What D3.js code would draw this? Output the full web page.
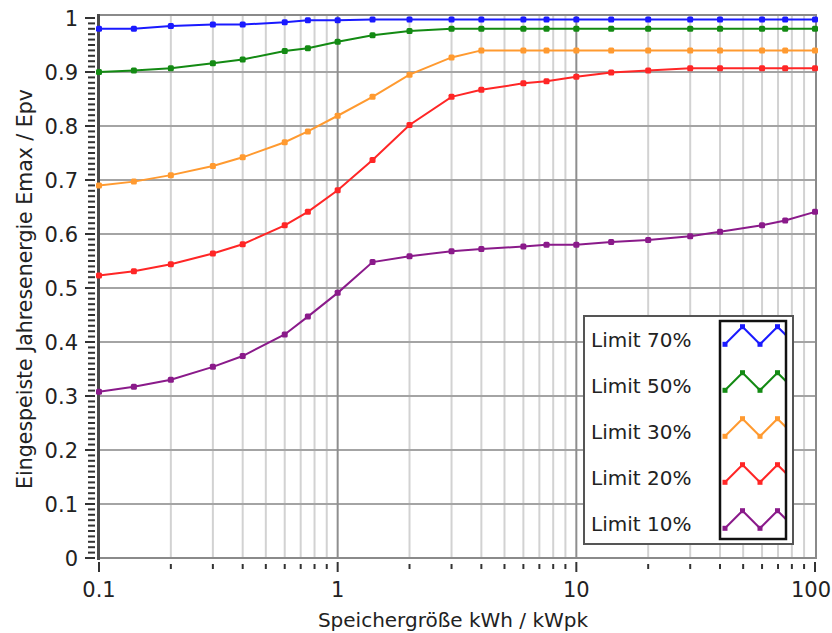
<!DOCTYPE html>
<html>
<head>
<meta charset="utf-8">
<script src="https://cdn.jsdelivr.net/npm/d3@7/dist/d3.min.js"></script>
<style>
    body { margin: 0; background: #fff; }
    text { font-family: "DejaVu Sans", Verdana, sans-serif; fill: #222; }
</style>
</head>
<body>
<div id="chart"></div>
<script>
// storage size kWh / kWpk (x values shared by all series)
var storage = [0.1, 0.14, 0.2, 0.3, 0.4, 0.6, 0.75, 1, 1.4, 2, 3, 4, 6, 7.5, 10, 14, 20, 30, 40, 60, 75, 100];

// Emax / Epv
var limit70 = [0.980, 0.980, 0.985, 0.988, 0.988, 0.992, 0.996, 0.996, 0.997, 0.997, 0.997,
               0.997, 0.997, 0.997, 0.997, 0.997, 0.997, 0.997, 0.997, 0.997, 0.997, 0.997];
var limit50 = [0.900, 0.903, 0.907, 0.916, 0.923, 0.939, 0.944, 0.956, 0.968, 0.976, 0.980,
               0.980, 0.980, 0.980, 0.980, 0.980, 0.980, 0.980, 0.980, 0.980, 0.980, 0.980];
var limit30 = [0.690, 0.697, 0.709, 0.726, 0.742, 0.770, 0.790, 0.819, 0.854, 0.895, 0.927,
               0.940, 0.940, 0.940, 0.940, 0.940, 0.940, 0.940, 0.940, 0.940, 0.940, 0.940];
var limit20 = [0.523, 0.531, 0.544, 0.564, 0.581, 0.616, 0.641, 0.681, 0.737, 0.802, 0.854,
               0.867, 0.879, 0.883, 0.891, 0.899, 0.903, 0.907, 0.907, 0.907, 0.907, 0.907];
var limit10 = [0.308, 0.317, 0.330, 0.354, 0.374, 0.414, 0.447, 0.491, 0.548, 0.559, 0.568,
               0.572, 0.577, 0.580, 0.580, 0.585, 0.589, 0.596, 0.604, 0.616, 0.625, 0.641];

var seriesNames = ["Limit 70%", "Limit 50%", "Limit 30%", "Limit 20%", "Limit 10%"];
var seriesValues = [limit70, limit50, limit30, limit20, limit10];

var yTickValues = [0, 0.1, 0.2, 0.3, 0.4, 0.5, 0.6, 0.7, 0.8, 0.9, 1];
var yTickLabels = ["0", "0.1", "0.2", "0.3", "0.4", "0.5", "0.6", "0.7", "0.8", "0.9", "1"];
var xTickValues = [0.1, 1, 10, 100];
var xTickLabels = ["0.1", "1", "10", "100"];

var xTitle = "Speichergröße kWh / kWpk";
var yTitle = "Eingespeiste Jahresenergie Emax / Epv";

// constructor function
LimitChart = function(_parentElement, _svgWidth, _svgHeight) {
    this.parentElement = _parentElement;
    this.svgWidth = _svgWidth;
    this.svgHeight = _svgHeight;

    this.initVis();
}

LimitChart.prototype.initVis = function() {
    var vis = this;

    vis.margin = {top: 15, right: 16, bottom: 75, left: 99};
    vis.width = vis.svgWidth - vis.margin.left - vis.margin.right;
    vis.height = vis.svgHeight - vis.margin.top - vis.margin.bottom;

    vis.colour = d3.scaleOrdinal()
        .domain(seriesNames)
        .range(['#1a1aff', '#138a13', '#ff9a30', '#ff2626', '#8a1a8a']);

    vis.svg = d3.select(vis.parentElement).append('svg')
        .attr('width', vis.svgWidth).attr('height', vis.svgHeight);

    vis.g = vis.svg.append('g')
        .attr('transform', 'translate(' + vis.margin.left + ' ' + vis.margin.top + ')');

    vis.x = d3.scaleLog().domain([0.1, 100]).range([0, vis.width - 1]);
    vis.y = d3.scaleLinear().domain([0, 1]).range([vis.height, 3]);

    vis.wrangleData();
}

LimitChart.prototype.wrangleData = function() {
    var vis = this;

    vis.series = seriesNames.map(function(name, i) {
        return {
            name: name,
            values: storage.map(function(s, j) { return {x: s, y: seriesValues[i][j]}; })
        };
    });

    vis.updateVis();
}

LimitChart.prototype.updateVis = function() {
    var vis = this;

    // grid lines
    var xAll = vis.x.ticks();
    var isMajor = function(d) { return Math.abs(Math.log10(d) - Math.round(Math.log10(d))) < 1e-9; };

    vis.g.append('g').selectAll('line')
        .data(xAll.filter(function(d) { return !isMajor(d); }))
        .enter().append('line')
        .attr('x1', d => vis.x(d)).attr('x2', d => vis.x(d))
        .attr('y1', 0).attr('y2', vis.height)
        .attr('stroke', '#d2d2d2').attr('stroke-width', 2);

    vis.g.append('g').selectAll('line')
        .data(yTickValues.slice(1, -1))
        .enter().append('line')
        .attr('x1', 0).attr('x2', vis.width)
        .attr('y1', d => vis.y(d)).attr('y2', d => vis.y(d))
        .attr('stroke', '#a4a4a4').attr('stroke-width', 2);

    vis.g.append('g').selectAll('line')
        .data([1, 10])
        .enter().append('line')
        .attr('x1', d => vis.x(d)).attr('x2', d => vis.x(d))
        .attr('y1', 0).attr('y2', vis.height)
        .attr('stroke', '#8e8e8e').attr('stroke-width', 2);

    // frame
    vis.g.append('rect')
        .attr('x', 0).attr('y', 0)
        .attr('width', vis.width).attr('height', vis.height)
        .attr('fill', 'none').attr('stroke', '#8a8a8a').attr('stroke-width', 2);
    vis.g.append('line')
        .attr('x1', -0.5).attr('x2', -0.5).attr('y1', -1).attr('y2', vis.height + 2)
        .attr('stroke', '#4a4a4a').attr('stroke-width', 3);

    // y ticks
    var yAxis = vis.g.append('g').attr('class', 'y axis');
    yAxis.selectAll('line.minor')
        .data(vis.y.ticks(100))
        .enter().append('line')
        .attr('x1', d => (yTickValues.indexOf(+d.toFixed(2)) >= 0 ? -14 : -11))
        .attr('x2', -4)
        .attr('y1', d => vis.y(d)).attr('y2', d => vis.y(d))
        .attr('stroke', '#333').attr('stroke-width', 2);
    yAxis.selectAll('text')
        .data(yTickValues)
        .enter().append('text')
        .attr('x', -21).attr('y', d => vis.y(d) + 8)
        .attr('text-anchor', 'end')
        .attr('font-size', '21px')
        .text(function(d, i) { return yTickLabels[i]; });

    // x ticks
    var xAxis = vis.g.append('g').attr('class', 'x axis')
        .attr('transform', 'translate(0 ' + vis.height + ')');
    xAxis.selectAll('line')
        .data(xAll)
        .enter().append('line')
        .attr('x1', d => vis.x(d)).attr('x2', d => vis.x(d))
        .attr('y1', d => (isMajor(d) ? 4 : 6))
        .attr('y2', d => (isMajor(d) ? 14 : 11))
        .attr('stroke', '#333').attr('stroke-width', 2);
    // the last label sits against the right edge, like in the original
    xAxis.selectAll('text')
        .data(xTickValues)
        .enter().append('text')
        .attr('x', (d, i) => (i === xTickValues.length - 1 ? vis.svgWidth - vis.margin.left - 1 : vis.x(d)))
        .attr('y', 39)
        .attr('text-anchor', (d, i) => (i === xTickValues.length - 1 ? 'end' : 'middle'))
        .attr('font-size', '21px')
        .text(function(d, i) { return xTickLabels[i]; });

    // axis titles
    vis.svg.append('text')
        .attr('x', 453).attr('y', 627)
        .attr('text-anchor', 'middle')
        .attr('font-size', '20px')
        .text(xTitle);
    vis.svg.append('text')
        .attr('transform', 'translate(32 289) rotate(-90)')
        .attr('text-anchor', 'middle')
        .attr('font-size', '20.5px')
        .text(yTitle);

    // series
    var line = d3.line()
        .x(d => vis.x(d.x))
        .y(d => vis.y(d.y));

    var layers = vis.g.append('g').attr('class', 'series')
        .selectAll('g')
        .data(vis.series.slice().reverse())
        .enter().append('g')
        .attr('fill', d => vis.colour(d.name))
        .attr('stroke', d => vis.colour(d.name));

    layers.append('path')
        .attr('d', d => line(d.values))
        .attr('fill', 'none')
        .attr('stroke-width', 2);

    layers.selectAll('rect')
        .data(d => d.values)
        .enter().append('rect')
        .attr('x', d => vis.x(d.x) - 3).attr('y', d => vis.y(d.y) - 3)
        .attr('width', 6).attr('height', 6)
        .attr('rx', 1.5)
        .attr('stroke', 'none');

    // legend
    var lg = vis.svg.append('g').attr('class', 'legend');
    lg.append('rect')
        .attr('x', 584).attr('y', 316).attr('width', 209).attr('height', 228)
        .attr('fill', '#fff').attr('stroke', '#555').attr('stroke-width', 2);

    vis.svg.append('defs').append('clipPath').attr('id', 'swatch-clip')
        .append('rect').attr('x', 720).attr('y', 321).attr('width', 66).attr('height', 218);

    var rowY = function(i) { return 335.5 + i * 46; };

    lg.selectAll('text.name')
        .data(vis.series)
        .enter().append('text')
        .attr('class', 'name')
        .attr('x', 591).attr('y', (d, i) => rowY(i) + 11)
        .attr('font-size', '20px')
        .text(d => d.name);

    var zig = [[725, 1], [742.5, -1], [760, 1], [777.5, -1], [795, 1]];
    var swatches = lg.append('g').attr('clip-path', 'url(#swatch-clip)')
        .selectAll('g')
        .data(vis.series)
        .enter().append('g')
        .attr('fill', d => vis.colour(d.name));

    swatches.append('path')
        .attr('d', (d, i) => d3.line()(zig.map(p => [p[0], rowY(i) + p[1] * 8.8])))
        .attr('fill', 'none')
        .attr('stroke', d => vis.colour(d.name))
        .attr('stroke-width', 2);
    swatches.each(function(d, i) {
        d3.select(this).selectAll('rect')
            .data(zig)
            .enter().append('rect')
            .attr('x', p => p[0] - 2.5).attr('y', p => rowY(i) + p[1] * 8.8 - 2.5)
            .attr('width', 5).attr('height', 5);
    });

    lg.append('rect')
        .attr('x', 720).attr('y', 321).attr('width', 66).attr('height', 218)
        .attr('fill', 'none').attr('stroke', '#111').attr('stroke-width', 2.5);
}

new LimitChart('#chart', 832, 633);
</script>
</body>
</html>
